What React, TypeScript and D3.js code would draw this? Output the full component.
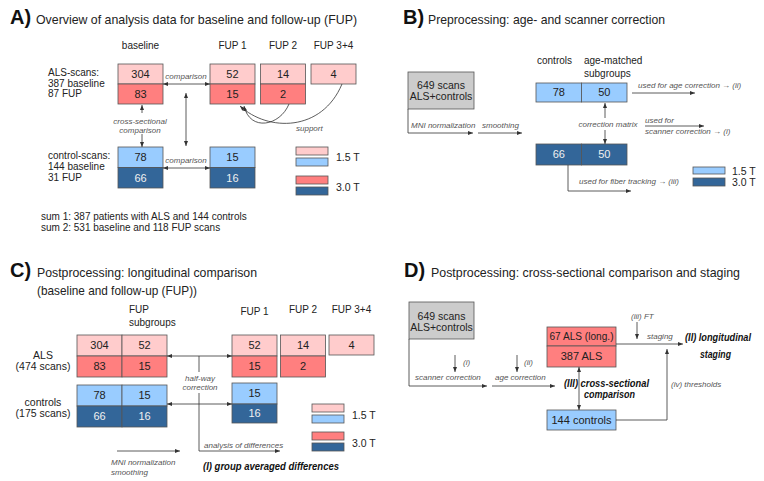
import React from "react";
import * as d3 from "d3";

const fieldStrengths = ["1.5 T", "3.0 T"];
const fupLabels = ["FUP 1", "FUP 2", "FUP 3+4"];
const alsBaseline = [304, 83];
const alsFup = [[52, 15], [14, 2], [4]];
const ctrlBaseline = [78, 66];
const ctrlFup = [[15, 16]];
const bControls = [78, 66];
const bMatched = [50, 50];
const cAlsSub = [52, 15];
const cCtrlSub = [15, 16];
const dAls = ["67 ALS (long.)", "387 ALS"];
const dCtrl = ["144 controls"];
const alsColors = ["#ffcccc", "#ff7f7f"];
const ctrlColors = ["#99ccff", "#336699"];
const ctrlText = ["#222", "#f0f0f0"];

const FONT = "Liberation Sans, Arial, sans-serif";
const STROKE = "#555";
const LINE = "#333";

function Cell({ x, y, w, h, fill, label, color = "#222", size = 11, len }: any) {
  return (
    <g>
      <rect x={x} y={y} width={w} height={h} fill={fill} stroke={STROKE} strokeWidth={0.8} />
      <text
        x={x + w / 2}
        y={y + h / 2 + size * 0.36}
        textAnchor="middle"
        fontSize={size}
        fill={color}
        fontFamily={FONT}
        textLength={len}
        lengthAdjust={len ? "spacingAndGlyphs" : undefined}
      >
        {label}
      </text>
    </g>
  );
}

function T({ x, y, children, size = 10, anchor = "start", italic = false, bold = false, fill = "#222", len }: any) {
  return (
    <text
      x={x}
      y={y}
      fontSize={size}
      textAnchor={anchor}
      fontStyle={italic ? "italic" : "normal"}
      fontWeight={bold ? "bold" : "normal"}
      fill={fill}
      fontFamily={FONT}
      textLength={len}
      lengthAdjust={len ? "spacingAndGlyphs" : undefined}
    >
      {children}
    </text>
  );
}

function Small({ x, y, children, anchor = "start", len }: any) {
  return <T x={x} y={y} size={8} italic anchor={anchor} fill="#555" len={len}>{children}</T>;
}

function Arrow({ d, start = false, end = true }: any) {
  return (
    <path d={d} fill="none" stroke={LINE} strokeWidth={0.8} markerStart={start ? "url(#ah)" : undefined} markerEnd={end ? "url(#ah)" : undefined} />
  );
}

function Title({ x, y, letter, lines, lx, lens }: any) {
  return (
    <g>
      <T x={lx} y={y} size={20} bold fill="#111">{letter}</T>
      {lines.map((l: string, i: number) => (
        <T key={i} x={x} y={y + i * 18} size={13} fill="#222" len={lens[i]}>{l}</T>
      ))}
    </g>
  );
}

function Legend({ x, ys, labelYs, fills }: any) {
  return (
    <g>
      {fills.map((f: string, i: number) => (
        <rect key={i} x={x} y={ys[i]} width={32} height={8} fill={f} stroke={STROKE} strokeWidth={0.8} />
      ))}
      {fieldStrengths.map((l, i) => (
        <T key={l} x={x + 40} y={labelYs[i]} size={10.5}>{l}</T>
      ))}
    </g>
  );
}

export default function App() {
  // Panel A scales
  const aCols = d3.scaleBand<string>().domain(fupLabels).range([210, 356]).paddingInner(0.109);
  const aAlsRows = d3.scaleBand<string>().domain(fieldStrengths).range([64, 104]);
  const aCtrlRows = d3.scaleBand<string>().domain(fieldStrengths).range([147, 188]);
  const aBaseX = 118;
  const W = 45;

  // Panel C scales
  const cCols = d3.scaleBand<string>().domain(fupLabels).range([232, 374]).paddingInner(0.072);
  const cAlsRows = d3.scaleBand<string>().domain(fieldStrengths).range([335, 377]);
  const cCtrlRows = d3.scaleBand<string>().domain(fieldStrengths).range([385, 427]);
  const cSubCols = d3.scaleBand<string>().domain(["baseline", "sub"]).range([77, 167]);

  // Panel B scales
  const bCols = d3.scaleBand<string>().domain(["controls", "matched"]).range([536, 627]);
  const bRows = [
    { y: 83, h: 19 },
    { y: 144, h: 21 },
  ];

  return (
    <svg width={764} height={481} style={{ position: "absolute", left: 0, top: 0, background: "#fff" }} fontFamily={FONT}>
      <defs>
        <marker id="ah" viewBox="0 0 10 10" refX="10" refY="5" markerWidth="5" markerHeight="5" markerUnits="userSpaceOnUse" orient="auto-start-reverse">
          <path d="M0,1 L10,5 L0,9 z" fill={LINE} />
        </marker>
      </defs>

      {/* ================= PANEL A ================= */}
      <Title lx={10} x={36} y={24} letter="A)" lines={["Overview of analysis data for baseline and follow-up (FUP)"]} lens={[321]} />
      <T x={aBaseX + W / 2} y={49} anchor="middle">baseline</T>
      {fupLabels.map((l) => (
        <T key={l} x={(aCols(l) as number) + aCols.bandwidth() / 2} y={49} anchor="middle">{l}</T>
      ))}
      <T x={48} y={76}>ALS-scans:</T>
      <T x={48} y={87}>387 baseline</T>
      <T x={48} y={97}>87 FUP</T>
      <T x={48} y={159}>control-scans:</T>
      <T x={48} y={170}>144 baseline</T>
      <T x={48} y={181}>31 FUP</T>
      {alsBaseline.map((v, i) => (
        <Cell key={i} x={aBaseX} y={aAlsRows(fieldStrengths[i])} w={W} h={aAlsRows.bandwidth()} fill={alsColors[i]} label={v} />
      ))}
      {alsFup.map((col, j) =>
        col.map((v, i) => (
          <Cell key={j + "-" + i} x={aCols(fupLabels[j])} y={aAlsRows(fieldStrengths[i])} w={aCols.bandwidth()} h={aAlsRows.bandwidth()} fill={alsColors[i]} label={v} />
        ))
      )}
      {ctrlBaseline.map((v, i) => (
        <Cell key={i} x={aBaseX} y={aCtrlRows(fieldStrengths[i])} w={W} h={aCtrlRows.bandwidth()} fill={ctrlColors[i]} label={v} color={ctrlText[i]} />
      ))}
      {ctrlFup.map((col, j) =>
        col.map((v, i) => (
          <Cell key={j + "-" + i} x={aCols(fupLabels[j])} y={aCtrlRows(fieldStrengths[i])} w={aCols.bandwidth()} h={aCtrlRows.bandwidth()} fill={ctrlColors[i]} label={v} color={ctrlText[i]} />
        ))
      )}
      <Small x={186} y={79} anchor="middle">comparison</Small>
      <Arrow d="M163,84 H210" start end />
      <Small x={186} y={163} anchor="middle">comparison</Small>
      <Arrow d="M163,168 H210" start end />
      <Arrow d="M186,93 V146" start end />
      <Arrow d="M142,113 V105" />
      <Arrow d="M142,134 V147" />
      <Small x={140} y={124} anchor="middle">cross-sectional</Small>
      <Small x={140} y={133} anchor="middle">comparison</Small>
      <path d="M289,104 C280,126 250,132 244,106" fill="none" stroke={LINE} strokeWidth={0.8} markerEnd="url(#ah)" />
      <path d="M342,84 C322,132 268,132 240,106" fill="none" stroke={LINE} strokeWidth={0.8} markerEnd="url(#ah)" />
      <Small x={296} y={131}>support</Small>
      <Legend x={296} ys={[147, 158, 176, 187]} labelYs={[161, 191]} fills={[alsColors[0], ctrlColors[0], alsColors[1], ctrlColors[1]]} />
      <T x={41} y={220}>sum 1: 387 patients with ALS and 144 controls</T>
      <T x={41} y={231}>sum 2: 531 baseline and 118 FUP scans</T>

      {/* ================= PANEL B ================= */}
      <Title lx={403} x={428} y={24} letter="B)" lines={["Preprocessing: age- and scanner correction"]} lens={[237]} />
      <rect x={408} y={72} width={66} height={37} fill="#cccccc" stroke={STROKE} strokeWidth={0.8} />
      <T x={441} y={89} anchor="middle" size={10.5}>649 scans</T>
      <T x={441} y={100} anchor="middle" size={10.5}>ALS+controls</T>
      <Arrow d="M408,109 V133 H473" />
      <Small x={411} y={128}>MNI normalization</Small>
      <Arrow d="M478,133 H522" />
      <Small x={482} y={128}>smoothing</Small>
      <T x={537} y={64}>controls</T>
      <T x={584} y={64}>age-matched</T>
      <T x={584} y={77}>subgroups</T>
      {[bControls, bMatched].map((col, j) =>
        col.map((v, i) => (
          <Cell key={j + "-" + i} x={bCols(j === 0 ? "controls" : "matched")} y={bRows[i].y} w={bCols.bandwidth()} h={bRows[i].h} fill={ctrlColors[i]} label={v} color={ctrlText[i]} />
        ))
      )}
      <Arrow d="M632,93 H695" />
      <Small x={638} y={88}>used for age correction → (ii)</Small>
      <Arrow d="M605,118 V103" />
      <Arrow d="M605,130 V144" />
      <Small x={608} y={127} anchor="middle">correction matrix</Small>
      <Small x={645} y={123}>used for</Small>
      <Arrow d="M645,126 H704" />
      <Small x={645} y={134}>scanner correction → (i)</Small>
      <Arrow d="M568,165 V191 H631" />
      <Small x={579} y={184}>used for fiber tracking → (iii)</Small>
      <rect x={693} y={167} width={32} height={7} fill={ctrlColors[0]} stroke={STROKE} strokeWidth={0.8} />
      <rect x={693} y={178} width={32} height={8} fill={ctrlColors[1]} stroke={STROKE} strokeWidth={0.8} />
      <T x={732} y={175} size={10.5}>1.5 T</T>
      <T x={732} y={186} size={10.5}>3.0 T</T>

      {/* ================= PANEL C ================= */}
      <Title lx={10} x={37} y={277} letter="C)" lines={["Postprocessing: longitudinal comparison", "(baseline and follow-up (FUP))"]} lens={[220, 160]} />
      <T x={129} y={313}>FUP</T>
      <T x={129} y={326}>subgroups</T>
      {fupLabels.map((l, i) => (
        <T key={l} x={(cCols(l) as number) + cCols.bandwidth() / 2} y={i === 0 ? 315 : 313} anchor="middle">{l}</T>
      ))}
      <T x={43} y={359} anchor="middle" size={10.5}>ALS</T>
      <T x={43} y={370} anchor="middle" size={10.5}>(474 scans)</T>
      <T x={43} y={406} anchor="middle" size={10.5}>controls</T>
      <T x={43} y={417} anchor="middle" size={10.5}>(175 scans)</T>
      {[alsBaseline, cAlsSub].map((col, j) =>
        col.map((v, i) => (
          <Cell key={j + "-" + i} x={cSubCols(j === 0 ? "baseline" : "sub")} y={cAlsRows(fieldStrengths[i])} w={cSubCols.bandwidth()} h={cAlsRows.bandwidth()} fill={alsColors[i]} label={v} />
        ))
      )}
      {[ctrlBaseline, cCtrlSub].map((col, j) =>
        col.map((v, i) => (
          <Cell key={j + "-" + i} x={cSubCols(j === 0 ? "baseline" : "sub")} y={cCtrlRows(fieldStrengths[i])} w={cSubCols.bandwidth()} h={cCtrlRows.bandwidth()} fill={ctrlColors[i]} label={v} color={ctrlText[i]} />
        ))
      )}
      {alsFup.map((col, j) =>
        col.map((v, i) => (
          <Cell key={j + "-" + i} x={cCols(fupLabels[j])} y={cAlsRows(fieldStrengths[i])} w={cCols.bandwidth()} h={cAlsRows.bandwidth() - (j === 2 ? 1 : 0)} fill={alsColors[i]} label={v} />
        ))
      )}
      {ctrlFup.map((col, j) =>
        col.map((v, i) => (
          <Cell key={j + "-" + i} x={cCols(fupLabels[j])} y={383 + i * 21} w={cCols.bandwidth()} h={i === 0 ? 21 : 19} fill={ctrlColors[i]} label={v} color={ctrlText[i]} />
        ))
      )}
      <Arrow d="M167,356 H232" start end />
      <Arrow d="M167,404 H232" start end />
      <path d="M199,356 V372" fill="none" stroke={LINE} strokeWidth={0.8} />
      <Arrow d="M199,393 V451 H280" />
      <Small x={200} y={381} anchor="middle">half-way</Small>
      <Small x={200} y={390} anchor="middle">correction</Small>
      <Small x={204} y={448}>analysis of differences</Small>
      <Arrow d="M117,451 H180" />
      <Small x={111} y={465}>MNI normalization</Small>
      <Small x={111} y={475}>smoothing</Small>
      <T x={203} y={470} size={11.5} bold italic fill="#111" len={136}>(I) group averaged differences</T>
      <Legend x={312} ys={[404, 415, 432, 443]} labelYs={[419, 447]} fills={[alsColors[0], ctrlColors[0], alsColors[1], ctrlColors[1]]} />

      {/* ================= PANEL D ================= */}
      <Title lx={404} x={431} y={277} letter="D)" lines={["Postprocessing: cross-sectional comparison and staging"]} lens={[309]} />
      <rect x={409} y={302} width={65} height={37} fill="#cccccc" stroke={STROKE} strokeWidth={0.8} />
      <T x={441.5} y={320} anchor="middle" size={10.5}>649 scans</T>
      <T x={441.5} y={331} anchor="middle" size={10.5}>ALS+controls</T>
      <Arrow d="M409,339 V386 H487" />
      <Arrow d="M492,386 H555" />
      <Small x={415} y={380}>scanner correction</Small>
      <Small x={495} y={380}>age correction</Small>
      <Arrow d="M455,355 V372" />
      <Small x={463} y={365}>(i)</Small>
      <Arrow d="M517,355 V372" />
      <Small x={524} y={365}>(ii)</Small>
      {dAls.map((l, i) => (
        <Cell key={l} x={547} y={i === 0 ? 327 : 346} w={69} h={i === 0 ? 19 : 21} fill={alsColors[1]} label={l} size={11} len={i === 0 ? 64 : undefined} />
      ))}
      {dCtrl.map((l) => (
        <Cell key={l} x={547} y={410} w={69} h={20} fill={ctrlColors[0]} label={l} size={11} len={60} />
      ))}
      <Arrow d="M579,367 V410" start end />
      <T x={564} y={387} size={11.5} bold italic fill="#111" len={85}>(III) cross-sectional</T>
      <T x={584} y={398} size={11.5} bold italic fill="#111" len={51}>comparison</T>
      <Arrow d="M616,420 H667 V349" />
      <Small x={671} y={387}>(iv) thresholds</Small>
      <Arrow d="M616,344 H683" />
      <Small x={647} y={339}>staging</Small>
      <Small x={631} y={319}>(iii) FT</Small>
      <Arrow d="M637,322 V339" />
      <T x={685} y={341} size={10} bold italic fill="#111" len={66}>(II) longitudinal</T>
      <T x={700} y={358} size={11} bold italic fill="#111" len={31}>staging</T>
    </svg>
  );
}
